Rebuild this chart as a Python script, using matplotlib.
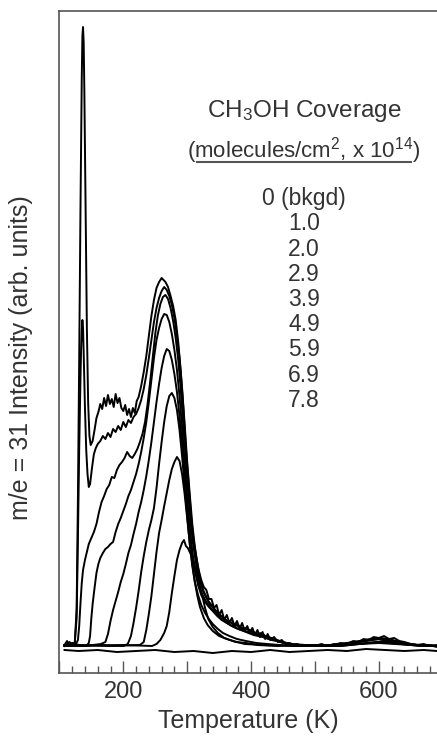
import matplotlib
matplotlib.use('Agg')
import matplotlib.pyplot as plt
from matplotlib.lines import Line2D
from matplotlib.ticker import MultipleLocator, FuncFormatter

plt.rcParams['font.family'] = ['Liberation Sans', 'DejaVu Sans']
plt.rcParams['mathtext.fontset'] = 'custom'
plt.rcParams['mathtext.rm'] = 'Liberation Sans'
plt.rcParams['mathtext.it'] = 'Liberation Sans:italic'

# ── Legend entries (molecules/cm2, x 1e14) ────────────────────────────────────
coverages = ['0 (bkgd)', '1.0', '2.0', '2.9', '3.9', '4.9', '5.9', '6.9', '7.8']

# ── TPD traces, m/e = 31, temperature (K) vs intensity (arb.) ────────────────
t_bkgd = [108, 130, 160, 190, 220, 250, 280, 310, 340, 370, 400, 430, 460, 490,
          520, 550, 580, 610, 640, 670, 691]
i_bkgd = [-2, -3, -2, -4, -3, -2, -4, -3, -5, -3, -4, -2, -4, -3,
          -2, -3, -1, -2, -3, -2, -3]

t_10 = [108, 200, 245, 252, 258, 264, 268, 272, 276, 280,
        284, 288, 292, 295, 298, 301, 304, 307, 310, 313,
        316, 320, 324, 328, 333, 340, 348, 358, 372, 390,
        420, 470, 540, 600, 650, 691]
i_10 = [2, 3, 2, 4, 8, 15, 22, 36, 55, 72,
        88, 98, 105, 108, 102, 100, 96, 92, 86, 80,
        72, 62, 51, 40, 29, 21, 15, 10, 7, 4,
        3, 2, 3, 5, 3, 2]

t_20 = [108, 180, 226, 232, 236, 240, 244, 248, 252, 256,
        260, 264, 268, 272, 276, 280, 284, 288, 292, 296,
        300, 304, 308, 312, 316, 320, 326, 332, 340, 350,
        362, 376, 392, 410, 440, 480, 540, 600, 650, 691]
i_20 = [3, 2, 3, 6, 18, 34, 52, 74, 96, 115,
        128, 142, 155, 168, 179, 186, 191, 187, 174, 154,
        130, 105, 84, 66, 52, 41, 30, 23, 17, 12,
        9, 6, 5, 3, 2, 3, 2, 6, 3, 2]

t_29 = [108, 160, 200, 207, 212, 216, 220, 224, 228, 232,
        236, 240, 244, 248, 252, 256, 260, 264, 268, 272,
        276, 280, 284, 288, 292, 296, 300, 304, 308, 312,
        317, 322, 328, 334, 340, 348, 356, 366, 378, 392,
        408, 425, 445, 470, 500, 540, 580, 610, 640, 691]
i_29 = [2, 3, 2, 4, 12, 25, 40, 57, 76, 92,
        106, 118, 128, 140, 160, 184, 206, 226, 242, 252,
        255, 250, 238, 218, 192, 162, 132, 104, 82, 66,
        53, 43, 35, 29, 24, 19, 15, 12, 9, 7,
        5, 4, 3, 2, 3, 2, 5, 7, 4, 2]

t_39 = [108, 140, 165, 172, 176, 180, 184, 188, 192, 196,
        200, 204, 208, 212, 216, 220, 224, 228, 232, 236,
        240, 244, 248, 252, 256, 260, 264, 268, 272, 276,
        280, 284, 288, 292, 296, 300, 304, 308, 313, 318,
        324, 330, 337, 344, 352, 360, 370, 380, 392, 404,
        418, 432, 448, 465, 485, 510, 540, 570, 600, 630,
        660, 691]
i_39 = [3, 2, 4, 6, 14, 27, 38, 47, 56, 66,
        74, 84, 95, 103, 114, 124, 136, 146, 158, 172,
        188, 206, 226, 246, 264, 280, 292, 299, 297, 288,
        274, 256, 232, 204, 174, 144, 116, 94, 76, 63,
        53, 46, 40, 35, 30, 26, 22, 19, 16, 13,
        11, 8, 6, 4, 3, 2, 4, 6, 9, 6,
        3, 2]

t_49 = [108, 120, 132, 142, 146, 148, 150, 152, 155, 158,
        161, 164, 168, 172, 176, 180, 184, 188, 192, 196,
        200, 204, 208, 212, 216, 220, 224, 228, 232, 236,
        240, 244, 248, 252, 256, 260, 264, 268, 272, 276,
        280, 284, 288, 292, 296, 300, 304, 308, 312, 317,
        322, 328, 334, 340, 347, 354, 362, 370, 380, 390,
        400, 412, 424, 436, 450, 465, 480, 500, 525, 550,
        575, 600, 625, 650, 691]
i_49 = [2, 4, 3, 2, 5, 12, 30, 44, 60, 75,
        84, 90, 95, 99, 101, 104, 106, 116, 124, 130,
        137, 144, 152, 158, 166, 174, 184, 196, 210, 226,
        246, 268, 290, 308, 320, 329, 334, 333, 326, 314,
        298, 278, 252, 220, 186, 150, 120, 96, 78, 63,
        53, 46, 41, 37, 32, 28, 25, 22, 19, 17,
        15, 13, 10, 8, 5, 3, 2, 3, 2, 4,
        7, 9, 6, 3, 2]

t_59 = [108, 114, 120, 126, 129, 131, 133, 135, 137, 140,
        143, 146, 150, 154, 158, 162, 166, 170, 174, 178,
        182, 186, 190, 194, 198, 202, 206, 210, 214, 218,
        222, 226, 230, 234, 238, 242, 246, 250, 254, 258,
        262, 266, 270, 274, 278, 282, 286, 290, 294, 298,
        302, 306, 310, 315, 320, 326, 332, 338, 344, 350,
        358, 366, 374, 382, 390, 398, 406, 414, 422, 430,
        440, 450, 460, 470, 485, 500, 520, 540, 560, 580,
        600, 620, 640, 660, 691]
i_59 = [3, 2, 5, 4, 8, 22, 45, 65, 78, 88,
        96, 104, 110, 116, 124, 136, 146, 152, 159, 163,
        171, 170, 178, 183, 186, 190, 196, 192, 190, 194,
        199, 206, 214, 226, 244, 266, 290, 314, 332, 344,
        351, 353, 349, 340, 327, 310, 288, 258, 222, 186,
        152, 122, 100, 80, 66, 55, 48, 43, 38, 34,
        29, 26, 24, 21, 19, 18, 15, 14, 12, 10,
        8, 6, 4, 3, 2, 3, 2, 4, 6, 8,
        10, 8, 4, 3, 2]

t_69 = [108, 112, 116, 120, 124, 127, 129, 131, 133, 134,
        135, 136, 137, 138, 140, 142, 144, 146, 148, 151,
        154, 157, 160, 164, 168, 172, 176, 180, 184, 188,
        192, 196, 200, 204, 208, 212, 216, 220, 224, 228,
        232, 236, 240, 244, 248, 252, 256, 260, 264, 268,
        272, 276, 280, 284, 288, 292, 296, 300, 304, 308,
        312, 316, 320, 325, 330, 335, 340, 345, 350, 356,
        362, 368, 374, 380, 386, 392, 398, 404, 410, 416,
        422, 428, 434, 440, 448, 456, 464, 472, 482, 494,
        506, 518, 530, 542, 554, 566, 578, 590, 602, 614,
        626, 638, 650, 664, 678, 691]
i_69 = [2, 4, 6, 3, 5, 30, 110, 200, 270, 300,
        318, 328, 320, 295, 240, 198, 174, 161, 164, 180,
        194, 200, 204, 207, 212, 209, 215, 211, 219, 216,
        222, 218, 226, 221, 228, 225, 231, 234, 240, 248,
        259, 273, 290, 308, 326, 340, 350, 357, 361, 358,
        352, 343, 330, 312, 290, 260, 224, 186, 154, 124,
        101, 84, 70, 58, 51, 44, 41, 36, 33, 31,
        27, 26, 22, 23, 19, 20, 17, 16, 14, 15,
        12, 11, 9, 8, 6, 4, 3, 2, 3, 2,
        3, 2, 4, 3, 5, 6, 8, 9, 10, 9,
        7, 5, 3, 2, 3, 1]

t_78 = [108, 112, 116, 120, 124, 127, 129, 131, 133, 135,
        136, 137, 138, 139, 141, 143, 145, 147, 149, 152,
        155, 158, 161, 164, 167, 170, 173, 176, 179, 182,
        185, 188, 191, 194, 197, 200, 203, 206, 209, 212,
        215, 218, 221, 224, 228, 232, 236, 240, 244, 248,
        252, 256, 260, 263, 266, 270, 274, 278, 282, 286,
        290, 294, 298, 302, 306, 310, 314, 318, 322, 326,
        330, 334, 338, 342, 346, 350, 354, 358, 362, 366,
        370, 374, 378, 382, 386, 390, 394, 398, 402, 406,
        410, 414, 418, 422, 426, 430, 436, 442, 448, 454,
        460, 466, 472, 480, 490, 500, 510, 520, 530, 540,
        550, 560, 568, 576, 584, 592, 600, 608, 616, 624,
        632, 640, 650, 660, 670, 680, 691]
i_78 = [3, 7, 2, 5, 4, 40, 150, 290, 440, 570,
        612, 621, 605, 560, 440, 320, 245, 212, 203, 207,
        218, 230, 236, 244, 239, 250, 242, 253, 244, 249,
        241, 254, 245, 250, 240, 237, 243, 233, 239, 231,
        240, 235, 247, 251, 262, 276, 292, 312, 332, 348,
        360, 366, 370, 368, 366, 361, 352, 342, 328, 306,
        276, 240, 200, 166, 132, 108, 92, 78, 68, 61,
        58, 49, 49, 40, 43, 33, 38, 28, 33, 25,
        30, 22, 27, 19, 25, 17, 22, 15, 20, 13,
        18, 11, 16, 9, 14, 8, 11, 6, 8, 4,
        5, 3, 4, 2, 3, 2, 4, 2, 3, 5,
        4, 7, 6, 9, 8, 11, 10, 12, 9, 10,
        7, 6, 4, 3, 4, 2, 3]

traces = [(t_bkgd, i_bkgd), (t_10, i_10), (t_20, i_20), (t_29, i_29),
          (t_39, i_39), (t_49, i_49), (t_59, i_59), (t_69, i_69),
          (t_78, i_78)]

W, H = 437, 740
fig = plt.figure(figsize=(W / 100, H / 100), dpi=100)
ax = fig.add_axes([59.4 / W, 1 - 673 / H, 1 - 59.4 / W, 662 / H])

for t, i in traces:
    ax.plot(t, i, color='black', linewidth=1.4)

ax.set_xlim(100, 691)
ax.set_ylim(-25, 637)
ax.spines['right'].set_visible(False)
for s in ['left', 'top', 'bottom']:
    ax.spines[s].set_color('#555555')
    ax.spines[s].set_linewidth(1.2)

ax.set_yticks([])
ax.xaxis.set_major_locator(MultipleLocator(100))
ax.xaxis.set_minor_locator(MultipleLocator(20))
ax.xaxis.set_major_formatter(
    FuncFormatter(lambda v, p: f'{v:.0f}' if round(v) % 200 == 0 else ''))
ax.tick_params(axis='x', which='major', direction='in', length=9, width=1,
               color='#555555', labelcolor='#333333', labelsize=17, pad=6)
ax.tick_params(axis='x', which='minor', direction='in', length=5, width=1,
               color='#555555')

ax.set_xlabel('Temperature (K)', fontsize=18, color='#333333', labelpad=4)
ax.set_ylabel('m/e = 31 Intensity (arb. units)', fontsize=18, color='#333333')
ax.yaxis.set_label_coords(-0.07, 0.476)

# coverage legend block
xc = 304 / W
fig.text(xc, 1 - 117 / H, r'CH$_3$OH Coverage', ha='center', va='baseline',
         fontsize=17.5, color='#333333')
fig.text(xc, 1 - 157 / H,
         r'(molecules/cm$\mathregular{^2}$, x 10$\mathregular{^{14}}$)',
         ha='center', va='baseline', fontsize=16, color='#333333')
fig.add_artist(Line2D([197 / W, 411 / W], [1 - 162 / H, 1 - 162 / H],
                      color='#555555', linewidth=1.5))
for k, lab in enumerate(coverages):
    fig.text(xc, 1 - (205 + 25.25 * k) / H, lab, ha='center', va='baseline',
             fontsize=16.5, color='#333333')

fig.savefig('out.png', dpi=100)
